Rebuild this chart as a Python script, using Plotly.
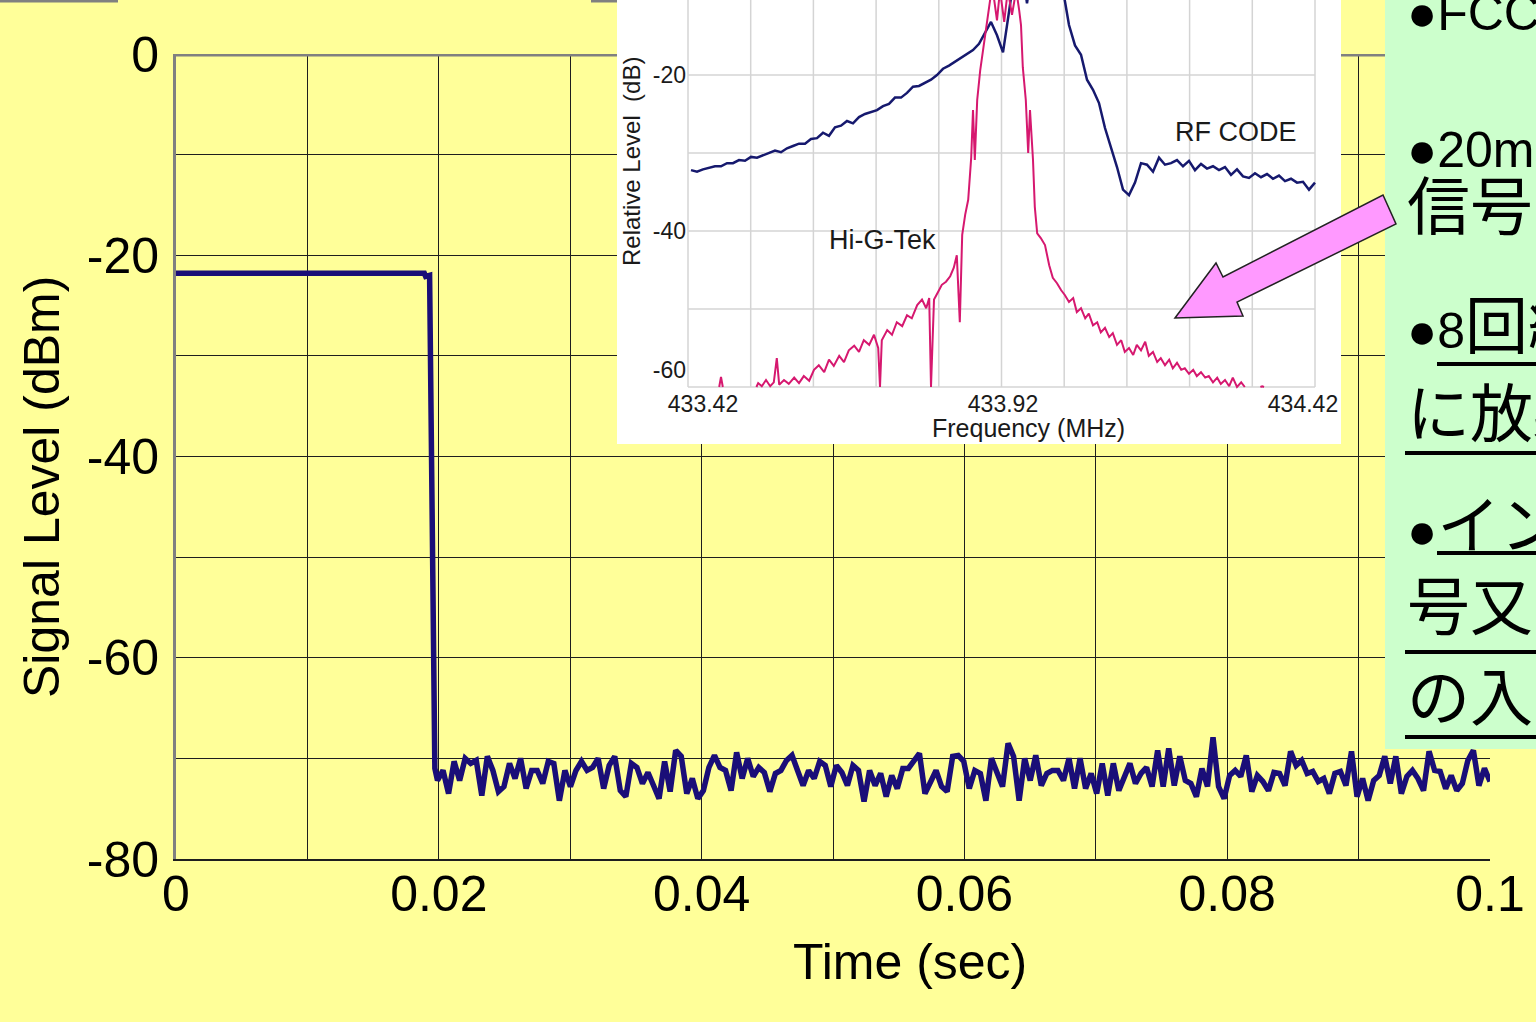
import numpy as np
import plotly.graph_objects as go

W, H = 1536, 1022

# ---------------- main chart data ----------------
step_time = [0.0, 0.0189, 0.0190, 0.0193, 0.0197]
step_level = [-21.8, -21.8, -22.1, -22.0, -71.0]

noise_level = [
    -72.2, -71.2, -73.5, -70.3, -72.2, -70.0, -70.5, -70.2, -73.7, -69.8,
    -71.2, -73.3, -72.8, -70.5, -72.0, -70.0, -73.0, -71.2, -71.2, -72.5,
    -70.3, -70.5, -74.2, -71.2, -72.8, -71.2, -70.3, -71.2, -70.9, -70.0,
    -73.0, -70.7, -69.8, -73.2, -73.8, -70.5, -70.9, -72.5, -71.4, -72.7,
    -74.0, -70.3, -73.3, -69.2, -69.8, -73.5, -72.0, -74.0, -73.2, -70.9,
    -69.7, -70.9, -71.2, -73.2, -69.4, -72.0, -70.0, -71.8, -70.9, -71.4,
    -73.3, -71.5, -71.2, -70.2, -69.7, -71.2, -72.7, -71.2, -72.0, -70.3,
    -70.7, -72.8, -70.7, -71.4, -72.7, -70.7, -71.2, -74.3, -71.2, -72.7,
    -71.5, -73.8, -71.7, -73.0, -71.0, -71.0, -70.3, -69.5, -73.5, -72.3,
    -71.2, -72.8, -73.3, -69.8, -69.7,
    -70.3, -73.0, -71.2, -71.5, -74.2, -70.0, -71.4, -72.8, -68.5, -69.8,
    -74.2, -70.0, -72.2, -69.7, -72.7, -71.5, -71.2, -71.2, -72.2, -70.0,
    -73.0, -70.0, -73.0, -71.5, -73.5, -70.5, -73.7, -70.5, -73.2, -71.7,
    -70.5, -72.5, -71.5, -70.9, -72.8, -69.2, -72.8, -69.0, -72.7, -69.8,
    -72.2, -72.5, -73.8, -71.0, -72.8, -67.9, -72.8, -74.0, -71.7, -71.2,
    -71.8, -69.7, -73.3, -71.7, -72.3, -73.2, -71.4,
    -71.5, -72.7, -69.3, -70.7, -70.2, -71.5, -71.3, -72.3, -72.0, -73.5,
    -71.5, -71.3, -72.7, -69.3, -73.8, -72.0, -74.2, -72.2, -71.7, -69.8,
    -72.5, -69.8, -73.5, -71.8, -71.2, -72.0, -73.2, -69.3, -71.2, -71.3,
    -73.0, -71.7, -73.2, -72.5, -70.2, -69.2, -72.7, -71.0, -72.3,
]
noise_time = list(np.linspace(0.0199, 0.1, len(noise_level)))

time_all = step_time + noise_time
level_all = step_level + noise_level

x_tickvals = [0, 0.01, 0.02, 0.03, 0.04, 0.05, 0.06, 0.07, 0.08, 0.09, 0.1]
x_ticktext = ["0", "", "0.02", "", "0.04", "", "0.06", "", "0.08", "", "0.1"]
y_tickvals = [0, -10, -20, -30, -40, -50, -60, -70, -80]
y_ticktext = ["0", "", "-20", "", "-40", "", "-60", "", "-80"]

# ---------------- inset spectrum data ----------------
rf_freq = list(np.round(np.linspace(433.40, 434.44, 105), 3))
rf_level = [
    -32.2, -32.4, -32.1, -31.9, -31.7, -31.7, -31.3, -31.3, -30.9, -31.0,
    -30.5, -30.6, -30.3, -30.1, -29.7, -29.9, -29.4, -29.1, -28.8, -28.8,
    -28.2, -28.1, -27.4, -27.8, -26.7, -26.5, -25.9, -26.2, -25.4, -25.0,
    -24.7, -24.5, -24.0, -23.7, -22.9, -22.9, -22.3, -21.5, -21.4, -21.0,
    -20.6, -20.0, -19.2, -18.8, -18.3, -17.8, -17.3, -16.8, -16.0, -14.6,
    -13.2, -14.9, -17.1, -11.9, -6.5, -5.3, -10.8, -5.3, -4.6, -4.6,
    -5.3, -6.5, -9.1, -13.6, -16.2, -17.4, -20.6, -21.9, -23.6, -26.8,
    -29.2, -31.8, -34.7, -35.4, -33.8, -31.3, -31.5, -32.4, -30.6, -31.5,
    -31.3, -30.9, -31.7, -31.0, -32.2, -31.4, -32.0, -31.7, -32.2, -31.8,
    -32.8, -32.1, -33.0, -33.2, -32.6, -33.1, -32.7, -33.3, -32.9, -33.6,
    -33.3, -33.8, -33.7, -34.7, -33.8,
]

hg_freq = [
    433.447, 433.450, 433.453, None,
    433.509, 433.512, 433.518, 433.525, 433.532, 433.538, 433.543, 433.547,
    433.555, 433.563, 433.572, 433.580, 433.588, 433.597, 433.605, 433.613,
    433.622, 433.630, 433.638, 433.647, 433.655, 433.663, 433.672, 433.680,
    433.688, 433.697, 433.705, 433.712, 433.715, 433.718, 433.727, 433.735,
    433.743, 433.752, 433.760, 433.768, 433.777, 433.785, 433.792, 433.797,
    433.800, 433.805, 433.812, 433.818, 433.825, 433.832, 433.838, 433.843,
    433.848, 433.852, 433.857, 433.862, 433.867, 433.870, 433.873, 433.877,
    433.882, 433.887, 433.892, 433.897, 433.902, 433.910, 433.915, 433.922,
    433.928, 433.935, 433.942, 433.947, 433.950, 433.953, 433.958, 433.962,
    433.965, 433.970, 433.973, 433.977, 433.983, 433.990, 433.997, 434.003,
    434.010, 434.017, 434.023, 434.030, 434.037, 434.043, 434.050, 434.057,
    434.063, 434.070, 434.077, 434.083, 434.090, 434.097, 434.103, 434.110,
    434.117, 434.123, 434.130, 434.137, 434.143, 434.150, 434.157, 434.163,
    434.170, 434.177, 434.183, 434.190, 434.197, 434.203, 434.210, 434.217,
    434.223, 434.230, 434.237, 434.243, 434.250, 434.257, 434.263, 434.270,
    434.277, 434.283, 434.290, 434.297, 434.303, 434.310, 434.317, 434.323,
    None, 434.349, 434.352, 434.355,
]
hg_level = [
    -60.0, -58.7, -60.0, None,
    -60.0, -59.5, -59.9, -59.1, -59.9, -59.4, -56.3, -59.7,
    -59.1, -59.6, -58.8, -59.5, -58.6, -59.2, -57.8, -57.2,
    -58.1, -56.5, -57.3, -56.0, -56.8, -55.3, -54.7, -55.5,
    -54.0, -54.6, -53.3, -55.0, -60.0, -54.0, -52.7, -53.3,
    -51.7, -52.2, -50.8, -51.2, -49.5, -48.8, -49.9, -48.6,
    -60.0, -48.8, -47.8, -46.9, -46.5, -45.8, -44.7, -43.1,
    -51.7, -40.5, -37.9, -36.0, -30.6, -24.5, -30.9, -23.2,
    -19.4, -16.8, -13.6, -11.0, -8.5, -13.0, -9.1, -13.2,
    -9.1, -12.3, -9.1, -11.7, -13.6, -19.0, -23.2, -30.0,
    -24.5, -30.9, -36.9, -40.3, -40.9, -41.8, -44.4, -46.0,
    -46.7, -47.6, -48.2, -49.1, -48.6, -50.4, -49.9, -51.2,
    -50.6, -52.1, -51.7, -53.0, -52.4, -53.6, -53.1, -54.6,
    -54.0, -55.5, -55.0, -55.9, -54.6, -55.3, -54.2, -56.0,
    -55.5, -56.8, -56.3, -57.2, -56.5, -57.6, -56.9, -57.8,
    -57.6, -58.3, -57.8, -58.6, -58.1, -58.8, -58.6, -59.4,
    -58.8, -59.6, -59.1, -59.9, -58.8, -60.0, -59.4, -60.0,
    None, -60.0, -59.9, -60.0,
]

inset_xticks = [433.42, 433.92, 434.42]
inset_xticktext = ["433.42", "433.92", "434.42"]
inset_yticks = [-40, -20]
inset_yticktext = ["-40", "-20"]
inset_ybottom_tick = [-60]
inset_ybottom_text = ["-60"]

CJK = '<span style="font-size:63px">{}</span>'
green_lines = [
    "●FCC" + CJK.format("規格"),
    "●20ms" + CJK.format("以上"),
    CJK.format("信号を送"),
    "●8" + CJK.format("回繰り"),
    CJK.format("に放射"),
    "●" + CJK.format("インタロ"),
    CJK.format("号又は"),
    CJK.format("の入力"),
]

# ---------------- helpers (layout only) ----------------
def pxx(x):
    return x / W

def pxy(y):
    return 1 - y / H

FONT = "Arial, Liberation Sans, sans-serif"
JFONT = "Arial, Liberation Sans, Noto Sans CJK JP, sans-serif"

fig = go.Figure()

fig.add_trace(go.Scatter(
    x=time_all, y=level_all, mode="lines",
    line=dict(color="#1a0e78", width=5.5),
    xaxis="x", yaxis="y", hoverinfo="skip", showlegend=False,
))
fig.add_trace(go.Scatter(
    x=rf_freq, y=rf_level, mode="lines",
    line=dict(color="#16196e", width=2.5),
    xaxis="x2", yaxis="y2", hoverinfo="skip", showlegend=False,
))
fig.add_trace(go.Scatter(
    x=hg_freq, y=hg_level, mode="lines",
    line=dict(color="#d6186f", width=2),
    xaxis="x2", yaxis="y2", hoverinfo="skip", showlegend=False,
))
# empty trace so the overlay axis carrying the "-60" label is drawn
fig.add_trace(go.Scatter(
    x=[None], y=[None], mode="lines", xaxis="x2", yaxis="y3",
    hoverinfo="skip", showlegend=False,
))

# inset axis geometry
F0, F1 = 433.395, 434.44          # data region of inset
PXF = 600.0                        # pixels per MHz
PXL = 7.8                          # pixels per dB
LTOP = -10.385
x2_range = [F0 - (688 - 617) / PXF, F1 + (1341 - 1315) / PXF]
y2_range = [LTOP - 444 / PXL, LTOP]

inset_tick_font = dict(size=23, family=FONT, color="#1a1a1a")

fig.update_layout(
    width=W, height=H,
    margin=dict(l=0, r=0, t=0, b=0, pad=0, autoexpand=False),
    paper_bgcolor="#FFFF99",
    plot_bgcolor="rgba(0,0,0,0)",
    font=dict(family=FONT, color="#000"),
    showlegend=False,
    xaxis=dict(
        domain=[pxx(176), pxx(1490)], range=[0, 0.1], anchor="y",
        tickvals=x_tickvals, ticktext=x_ticktext, ticks="",
        showgrid=True, gridcolor="#1e1e1e", gridwidth=1,
        showline=True, linecolor="#1e1e1e", linewidth=1.5,
        zeroline=False, tickfont=dict(size=50, family=FONT, color="#000"),
        ticklabelstandoff=-10,
    ),
    yaxis=dict(
        domain=[pxy(859), pxy(54)], range=[-80, 0], anchor="x",
        tickvals=y_tickvals, ticktext=y_ticktext, ticks="",
        showgrid=True, gridcolor="#1e1e1e", gridwidth=1,
        showline=True, linecolor="#808080", linewidth=3,
        zeroline=False, tickfont=dict(size=50, family=FONT, color="#000"),
        ticklabelstandoff=4,
    ),
    xaxis2=dict(
        domain=[pxx(617), pxx(1341)], range=x2_range, anchor="free",
        position=pxy(387), tickvals=inset_xticks, ticktext=inset_xticktext,
        ticks="", showgrid=False, showline=False, zeroline=False,
        tickfont=inset_tick_font, ticklabelstandoff=1,
    ),
    yaxis2=dict(
        domain=[pxy(444), 1.0], range=y2_range, anchor="free",
        position=pxx(688), tickvals=inset_yticks, ticktext=inset_yticktext,
        ticks="", showgrid=False, showline=False, zeroline=False,
        tickfont=inset_tick_font, ticklabelstandoff=2,
    ),
    yaxis3=dict(
        overlaying="y2", range=y2_range, anchor="free", side="left",
        position=pxx(688), tickvals=inset_ybottom_tick, ticktext=inset_ybottom_text,
        ticks="", showgrid=False, showline=False, zeroline=False,
        tickfont=inset_tick_font, ticklabelstandoff=2, ticklabelshift=-17,
    ),
)

shapes = []
# top border of main plot (gray), between grid and traces
shapes.append(dict(type="line", xref="x", yref="y", x0=0, x1=0.1, y0=0, y1=0,
                   line=dict(color="#808080", width=5), layer="between"))
# inset white background (inside inset subplot, above main chart)
shapes.append(dict(type="rect", xref="x2", yref="y2",
                   x0=x2_range[0] - 0.05, x1=x2_range[1] + 0.05,
                   y0=y2_range[0] - 5, y1=y2_range[1] + 5,
                   fillcolor="#FFFFFF", line=dict(width=0), layer="below"))
# inset gridlines
for k in range(11):
    f = F0 + k * (F1 - F0) / 10
    shapes.append(dict(type="line", xref="x2", yref="y2", x0=f, x1=f, y0=-60, y1=LTOP + 1,
                       line=dict(color="#d4d4d4", width=1.5), layer="between"))
for lv in [-20, -30, -40, -50, -60]:
    shapes.append(dict(type="line", xref="x2", yref="y2", x0=F0, x1=F1, y0=lv, y1=lv,
                       line=dict(color="#d4d4d4", width=1.5), layer="between"))
# gray fragments at very top edge
shapes.append(dict(type="line", xref="paper", yref="paper", x0=0, x1=pxx(118), y0=pxy(1), y1=pxy(1),
                   line=dict(color="#808080", width=3), layer="above"))
shapes.append(dict(type="line", xref="paper", yref="paper", x0=pxx(591), x1=pxx(617), y0=pxy(1), y1=pxy(1),
                   line=dict(color="#808080", width=3), layer="above"))
# green text box
shapes.append(dict(type="rect", xref="paper", yref="paper", x0=pxx(1385), x1=1.01, y0=pxy(749), y1=1.01,
                   fillcolor="#CCFFCC", line=dict(width=0), layer="above"))
# underlines in green box
for (xs, yy) in [(1437, 364), (1405, 453), (1437, 553), (1405, 652), (1405, 737)]:
    shapes.append(dict(type="line", xref="paper", yref="paper", x0=pxx(xs), x1=1.01, y0=pxy(yy), y1=pxy(yy),
                       line=dict(color="#000", width=4), layer="above"))
# pink arrow
arrow_px = [(1175, 318), (1216, 263), (1223, 277), (1383, 195), (1396, 224), (1237, 302), (1243, 316)]
path = "M " + " L ".join(f"{pxx(a):.5f},{pxy(b):.5f}" for a, b in arrow_px) + " Z"
shapes.append(dict(type="path", xref="paper", yref="paper", path=path,
                   fillcolor="#FF99FF", line=dict(color="#222", width=1.5), layer="above"))
fig.update_layout(shapes=shapes)

ann = []
ann.append(dict(text="Time (sec)", x=pxx(910), y=pxy(962), xref="paper", yref="paper",
                showarrow=False, font=dict(size=50, family=FONT, color="#000"),
                xanchor="center", yanchor="middle"))
ann.append(dict(text="Signal Level (dBm)", x=pxx(42), y=pxy(487), xref="paper", yref="paper",
                showarrow=False, textangle=-90, font=dict(size=50, family=FONT, color="#000"),
                xanchor="center", yanchor="middle"))
ann.append(dict(text="Frequency (MHz)", x=pxx(1028), y=pxy(428), xref="paper", yref="paper",
                showarrow=False, font=dict(size=25, family=FONT, color="#1a1a1a"),
                xanchor="center", yanchor="middle"))
ann.append(dict(text="Relative Level  (dB)", x=pxx(632), y=pxy(162), xref="paper", yref="paper",
                showarrow=False, textangle=-90, font=dict(size=24, family=FONT, color="#1a1a1a"),
                xanchor="center", yanchor="middle"))
ann.append(dict(text="RF CODE", x=pxx(1236), y=pxy(132), xref="paper", yref="paper",
                showarrow=False, font=dict(size=27, family=FONT, color="#1a1a1a"),
                xanchor="center", yanchor="middle"))
ann.append(dict(text="Hi-G-Tek", x=pxx(882), y=pxy(240), xref="paper", yref="paper",
                showarrow=False, font=dict(size=27, family=FONT, color="#1a1a1a"),
                xanchor="center", yanchor="middle"))
green_y = [8, 145, 207, 326, 414, 526, 607, 698]
for txt, yy in zip(green_lines, green_y):
    ann.append(dict(text=txt, x=pxx(1405), y=pxy(yy), xref="paper", yref="paper",
                    showarrow=False, font=dict(size=50, family=JFONT, color="#000"),
                    xanchor="left", yanchor="middle"))
fig.update_layout(annotations=ann)

fig.write_html(
    "out.html",
    config={"displayModeBar": False},
    post_script="document.body.style.margin='0';document.body.style.overflow='hidden';",
)
